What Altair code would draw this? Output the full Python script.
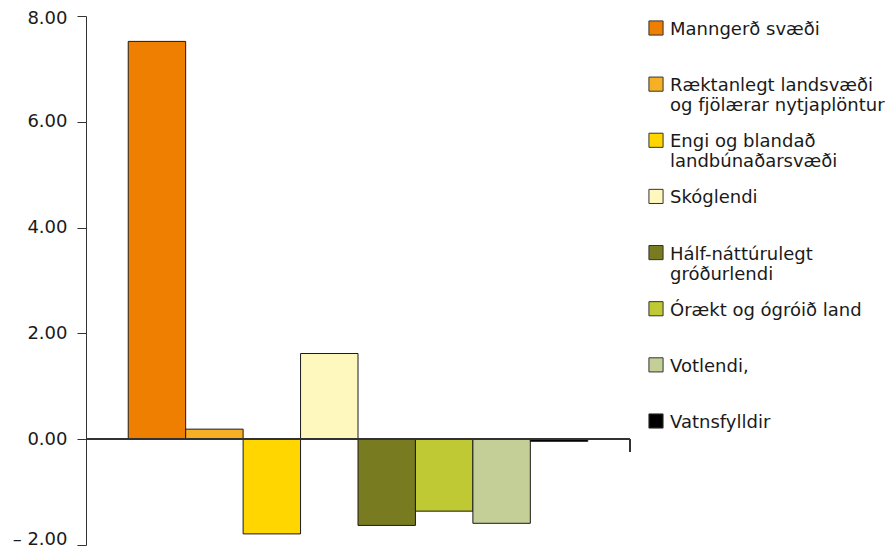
import altair as alt
import pandas as pd

categories = [
    "Manngerð svæði",
    "Ræktanlegt landsvæði og fjölærar nytjaplöntur",
    "Engi og blandað landbúnaðarsvæði",
    "Skóglendi",
    "Hálf-náttúrulegt gróðurlendi",
    "Órækt og ógróið land",
    "Votlendi,",
    "Vatnsfylldir",
]
legend_labels = [
    "Manngerð svæði",
    "Ræktanlegt landsvæði\nog fjölærar nytjaplöntur",
    "Engi og blandað\nlandbúnaðarsvæði",
    "Skóglendi",
    "Hálf-náttúrulegt\ngróðurlendi",
    "Órækt og ógróið land",
    "Votlendi,",
    "Vatnsfylldir",
]
values = [7.52, 0.19, -1.79, 1.62, -1.63, -1.36, -1.59, -0.04]
colors = ["#EE7F00", "#F6B026", "#FFD600", "#FFF8BE", "#787B1F", "#BFC933", "#C4CF98", "#000000"]
y_ticks = [-2, 0, 2, 4, 6, 8]

df = pd.DataFrame({"cat": categories, "value": values, "label": legend_labels})

W, H = 544, 529
FONT = "DejaVu Sans"
color_scale = alt.Scale(domain=categories, range=colors)

label_offset = {
    "condition": [
        {"test": "datum.value < 0", "value": -6},
        {"test": "datum.value > 7", "value": 2},
    ],
    "value": 0,
}

bars = alt.Chart(df).mark_bar(stroke="#1a1a1a", strokeWidth=1).encode(
    x=alt.X("cat:N", sort=categories, axis=None,
            scale=alt.Scale(paddingInner=0, paddingOuter=0.735)),
    y=alt.Y("value:Q", title=None,
            scale=alt.Scale(domain=[-2, 8], nice=False, zero=False),
            axis=alt.Axis(values=y_ticks, grid=False, tickSize=9, labelPadding=10,
                          domainColor="#333333", tickColor="#333333",
                          labelColor="#1a1a1a", labelFont=FONT, labelFontSize=18,
                          labelOffset=label_offset,
                          labelExpr="datum.value < 0 ? '– ' + format(-datum.value, '.2f') : format(datum.value, '.2f')")),
    color=alt.Color("cat:N", scale=color_scale, legend=None),
)

zero_line = alt.Chart(df).mark_rule(color="#333333", strokeWidth=1.2).encode(
    x=alt.value(0), x2=alt.value(W), y=alt.datum(0)
)
end_tick = alt.Chart(df).mark_rule(color="#333333", strokeWidth=1.2).encode(
    x=alt.value(W), y=alt.datum(0), y2=alt.datum(-0.24)
)

base = alt.layer(bars, zero_line, end_tick)

leg_y = alt.Y("cat:N", sort=categories, axis=None,
              scale=alt.Scale(type="point", range=[12, 405], padding=0))

leg_sq = alt.Chart(df).mark_square(size=200, stroke="#333333", strokeWidth=1, opacity=1).encode(
    x=alt.value(570), y=leg_y,
    color=alt.Color("cat:N", scale=color_scale, legend=None),
)
leg_txt = alt.Chart(df).mark_text(align="left", baseline="alphabetic", dy=7, lineBreak="\n",
                                  font=FONT, fontSize=18, lineHeight=20, color="#1a1a1a").encode(
    x=alt.value(584), y=leg_y, text="label:N"
)
legend = alt.layer(leg_sq, leg_txt)

chart = alt.layer(base, legend).resolve_scale(y="independent").properties(
    width=W, height=H,
    autosize=alt.AutoSizeParams(type="none"),
    padding={"left": 78, "top": 8, "right": 258, "bottom": 2},
).configure_view(stroke=None)

chart.save("out.html", embed_options={"renderer": "svg", "actions": False})
